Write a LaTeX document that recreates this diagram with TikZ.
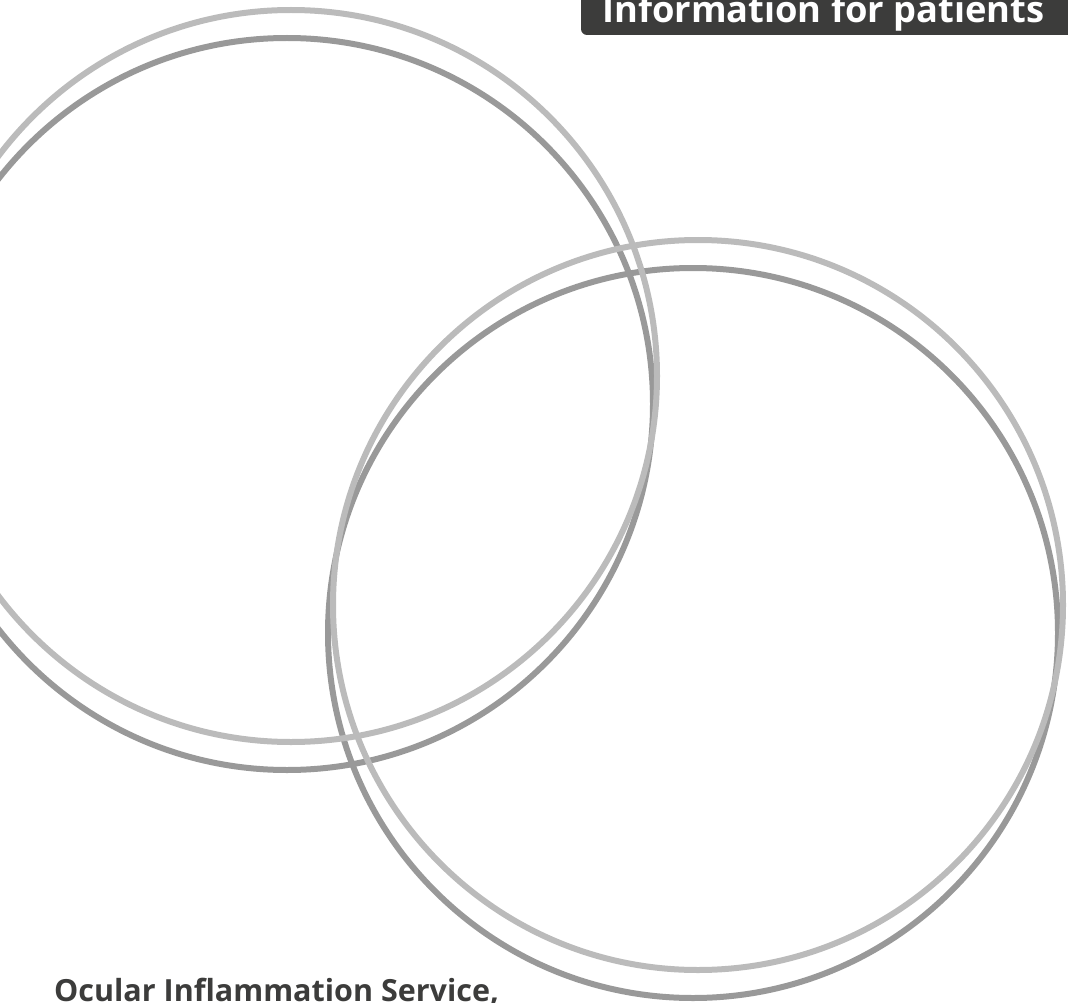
\documentclass[tikz,border=0pt]{standalone}
\usepackage{fontspec}
\setmainfont{Open Sans}
\definecolor{ringlight}{HTML}{BBBBBB}
\definecolor{ringdark}{HTML}{999999}
\definecolor{boxdark}{HTML}{3C3C3B}
\begin{document}
\begin{tikzpicture}[x=1pt,y=-1pt,
  ringA/.style={draw=ringdark,line width=6pt},
  ringB/.style={draw=ringlight,line width=6pt},
  headbox/.style={fill=boxdark,rounded corners=6pt},
  headtext/.style={text=white,font=\bfseries\fontsize{36.3}{36}\selectfont,anchor=base west,inner sep=0pt},
  foottext/.style={text=boxdark,font=\bfseries\fontsize{30.5}{31}\selectfont,anchor=base west,inner sep=0pt}]
\useasboundingbox (0,0) rectangle (1068,1003);
\begin{scope}
\clip (0,0) rectangle (1068,1003);
% dark rings
\draw[ringA] (287,404) circle (366);
\draw[ringA] (693,633) circle (365);
% light rings
\draw[ringB] (291,376) circle (366);
\draw[ringB] (698,605) circle (365);
% header box
\path[headbox] (581,-20) rectangle (1090,35);
\node[headtext] (head) at (602,23) {Information for patients};
\node[foottext] (foot) at (54,1001) {Ocular Inflammation Service,};
\end{scope}
\end{tikzpicture}
\end{document}
